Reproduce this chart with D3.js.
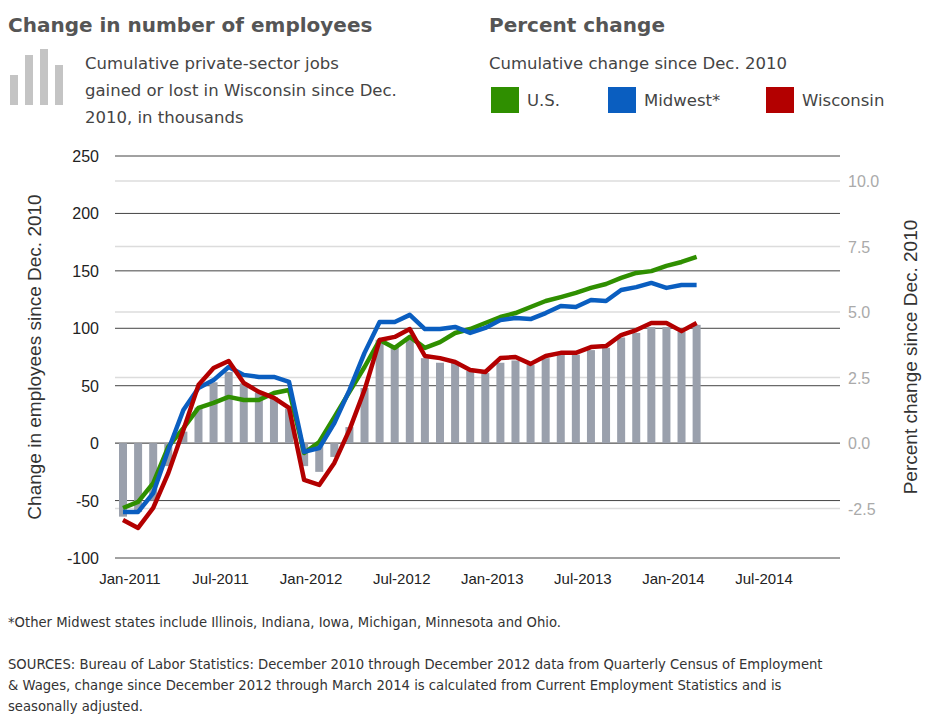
<!DOCTYPE html>
<html><head><meta charset="utf-8">
<script src="https://cdn.jsdelivr.net/npm/d3@7"></script>
<style>body{margin:0;background:#fff}</style>
</head><body><div id="chart"></div>
<script>
// Wisconsin jobs, thousands, monthly Jan-2011 .. Mar-2014
var jobs = [-64,-60,-50,-20,10,31,53,62,52,44,40,30,-20,-25,-12,14,48,90,84,90,74,70,70,63,61,70,72,68,74,77,77,81,83,92,96,101,101,97,103];
var usPct = [-2.48,-2.25,-1.53,-0.15,0.57,1.34,1.53,1.76,1.64,1.64,1.91,2.02,-0.38,0.04,0.99,1.95,2.90,3.93,3.63,4.05,3.63,3.85,4.20,4.35,4.58,4.81,4.96,5.19,5.42,5.57,5.73,5.92,6.07,6.30,6.49,6.56,6.76,6.91,7.10];
var midwestPct = [-2.63,-2.63,-1.91,-0.27,1.26,2.10,2.40,2.90,2.60,2.52,2.52,2.33,-0.34,-0.19,0.76,2.02,3.44,4.62,4.62,4.89,4.35,4.35,4.43,4.20,4.39,4.69,4.77,4.73,4.96,5.23,5.19,5.46,5.42,5.84,5.95,6.11,5.92,6.03,6.03];
var wiPct = [-2.94,-3.24,-2.48,-1.15,0.50,2.21,2.86,3.13,2.29,1.95,1.72,1.34,-1.41,-1.60,-0.76,0.50,2.02,3.93,4.05,4.35,3.32,3.24,3.09,2.79,2.71,3.24,3.28,3.02,3.32,3.44,3.44,3.66,3.70,4.12,4.31,4.58,4.58,4.27,4.58];
var leftTicks = [-100,-50,0,50,100,150,200,250];
var rightTicks = [-2.5,0,2.5,5,7.5,10];
var xLabels = ["Jan-2011","Jul-2011","Jan-2012","Jul-2012","Jan-2013","Jul-2013","Jan-2014","Jul-2014"];
var series = [
  {name:"U.S.", values:usPct, color:"#2f8f00"},
  {name:"Midwest*", values:midwestPct, color:"#0a5ec0"},
  {name:"Wisconsin", values:wiPct, color:"#b30000"}
];

var W = 926, H = 716;
var svg = d3.select("#chart").append("svg").attr("width", W).attr("height", H)
  .style("font-family", "DejaVu Sans, sans-serif");

var x = d3.scaleLinear().domain([0, 42]).range([123, 757]);
var yL = d3.scaleLinear().domain([-100, 250]).range([558, 156]);
var yR = d3.scaleLinear().domain([0, 10]).range([443, 181]);
var gx1 = 115, gx2 = 840;

// light gridlines (right axis)
svg.append("g").selectAll("line").data(rightTicks).enter().append("line")
  .attr("x1", gx1).attr("x2", gx2).attr("y1", d => yR(d)).attr("y2", d => yR(d))
  .attr("stroke", "#dcdcdc").attr("stroke-width", 1.5);
// dark gridlines (left axis)
svg.append("g").selectAll("line").data(leftTicks).enter().append("line")
  .attr("x1", gx1).attr("x2", gx2).attr("y1", d => yL(d)).attr("y2", d => yL(d))
  .attr("stroke", "#444").attr("stroke-width", 1);

// bars
svg.append("g").selectAll("rect").data(jobs).enter().append("rect")
  .attr("x", (d, i) => x(i) - 4).attr("width", 8)
  .attr("y", d => Math.min(yL(d), yL(0))).attr("height", d => Math.abs(yL(d) - yL(0)))
  .attr("fill", "#9aa0ac");

// lines
var line = d3.line().x((d, i) => x(i)).y(d => yR(d));
svg.append("g").selectAll("path").data(series).enter().append("path")
  .attr("d", d => line(d.values)).attr("fill", "none")
  .attr("stroke", d => d.color).attr("stroke-width", 4.5).attr("stroke-linejoin", "round");

// tick labels
svg.append("g").selectAll("text").data(leftTicks).enter().append("text")
  .attr("x", 99).attr("y", d => yL(d) + 6).attr("text-anchor", "end")
  .style("font-family", "Liberation Sans, Arial").style("font-size", "16px").attr("fill", "#222")
  .text(d => d);
svg.append("g").selectAll("text").data(rightTicks).enter().append("text")
  .attr("x", 848).attr("y", d => yR(d) + 6)
  .style("font-family", "Liberation Sans, Arial").style("font-size", "16px").attr("fill", "#aaa")
  .text(d => d.toFixed(1));
svg.append("g").selectAll("text").data(xLabels).enter().append("text")
  .attr("x", (d, i) => x(i * 6) + 7).attr("y", 584).attr("text-anchor", "middle")
  .style("font-family", "Liberation Sans, Arial").style("font-size", "15px").attr("fill", "#222")
  .text(d => d);

// axis titles
svg.append("text").attr("transform", "translate(41,357) rotate(-90)").attr("text-anchor", "middle")
  .style("font-family", "Liberation Sans, Arial").style("font-size", "19px").attr("fill", "#333")
  .text("Change in employees since Dec. 2010");
svg.append("text").attr("transform", "translate(917,357) rotate(-90)").attr("text-anchor", "middle")
  .style("font-family", "Liberation Sans, Arial").style("font-size", "19px").attr("fill", "#333")
  .text("Percent change since Dec. 2010");

// header
svg.append("text").attr("x", 8).attr("y", 32).style("font-size", "20px").style("font-weight", "bold")
  .attr("fill", "#555").text("Change in number of employees");
svg.append("text").attr("x", 489).attr("y", 32).style("font-size", "20px").style("font-weight", "bold")
  .attr("fill", "#555").text("Percent change");
var icon = [30, 50, 56, 40];
svg.append("g").selectAll("rect").data(icon).enter().append("rect")
  .attr("x", (d, i) => 10 + i * 15).attr("width", 8).attr("y", d => 105 - d).attr("height", d => d)
  .attr("fill", "#c4c4c4");
["Cumulative private-sector jobs", "gained or lost in Wisconsin since Dec.", "2010, in thousands"].forEach(function (t, i) {
  svg.append("text").attr("x", 85).attr("y", 69 + i * 27).style("font-size", "16.5px").attr("fill", "#444").text(t);
});
svg.append("text").attr("x", 489).attr("y", 69).style("font-size", "16.5px").attr("fill", "#444")
  .text("Cumulative change since Dec. 2010");
var legX = [491, 608, 766];
series.forEach(function (s, i) {
  svg.append("rect").attr("x", legX[i]).attr("y", 87).attr("width", 28).attr("height", 26).attr("fill", s.color);
  svg.append("text").attr("x", legX[i] + 36).attr("y", 106).style("font-size", "16.5px").attr("fill", "#444").text(s.name);
});

// footnotes
var notes = [
  [627, "*Other Midwest states include Illinois, Indiana, Iowa, Michigan, Minnesota and Ohio."],
  [669, "SOURCES: Bureau of Labor Statistics: December 2010 through December 2012 data from Quarterly Census of Employment"],
  [690, "& Wages, change since December 2012 through March 2014 is calculated from Current Employment Statistics and is"],
  [711, "seasonally adjusted."]
];
notes.forEach(function (n) {
  svg.append("text").attr("x", 8).attr("y", n[0]).style("font-size", "13.2px").attr("fill", "#333").text(n[1]);
});
</script>
</body></html>
